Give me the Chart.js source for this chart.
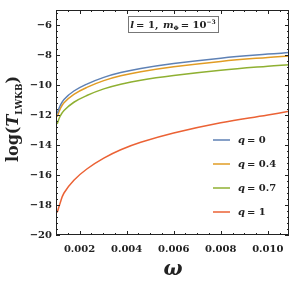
<!DOCTYPE html>
<html>
<head>
<meta charset="utf-8">
<script src="https://cdn.jsdelivr.net/npm/chart.js@4.4.1/dist/chart.umd.min.js"></script>
<style>
  html, body { margin: 0; padding: 0; background: #fff; }
  #wrap { width: 292px; height: 289px; }
</style>
</head>
<body>
<div id="wrap"><canvas id="grafico" width="292" height="289"></canvas></div>
<script>
// valores
const omega = [0.00105, 0.00117, 0.00134, 0.00176, 0.00231, 0.00303, 0.00375, 0.0046, 0.006, 0.008, 0.010, 0.0109];
const q0  = [-11.9, -11.4, -10.96, -10.4, -9.94, -9.49, -9.17, -8.9, -8.57, -8.21, -7.94, -7.84];
const q04 = [-12.12, -11.62, -11.18, -10.62, -10.16, -9.71, -9.39, -9.12, -8.79, -8.43, -8.16, -8.06];
const q07 = [-12.6, -12.1, -11.7, -11.15, -10.7, -10.26, -9.95, -9.68, -9.37, -9.02, -8.75, -8.65];
const q1  = [-18.5, -17.9, -17.2, -16.35, -15.6, -14.88, -14.32, -13.82, -13.2, -12.52, -12.0, -11.75];

const rotulos = ['0', '0.4', '0.7', '1'];
const cores = ['#5E81B5', '#E19C24', '#8FB032', '#EB6235'];
const xTicks = [0.002, 0.004, 0.006, 0.008, 0.010];
const yTicks = [-20, -18, -16, -14, -12, -10, -8, -6];

const serif = '"DejaVu Serif", "Liberation Serif", serif';

function pontos(ys) {
  return omega.map((w, i) => ({ x: w, y: ys[i] }));
}

// desenha pedaços de texto com fontes diferentes em sequência
function runs(ctx, partes, x, y) {
  let cx = x;
  partes.forEach(p => {
    ctx.font = p.f;
    ctx.fillText(p.t, cx, y + (p.dy || 0));
    cx += ctx.measureText(p.t).width + (p.sp || 0);
  });
  return cx - x;
}
function largura(ctx, partes) {
  let w = 0;
  partes.forEach(p => { ctx.font = p.f; w += ctx.measureText(p.t).width + (p.sp || 0); });
  return w;
}

const enfeites = {
  id: 'enfeites',
  afterDraw(chart) {
    const { ctx, chartArea: a, scales: { x, y } } = chart;
    ctx.save();
    ctx.strokeStyle = '#222';
    ctx.lineWidth = 1;
    ctx.strokeRect(a.left + 0.5, a.top + 0.5, a.right - a.left - 1, a.bottom - a.top - 1);

    // marcas dos eixos, para dentro, nos quatro lados
    ctx.beginPath();
    for (let v = 0.001; v <= 0.0109 + 1e-9; v += 0.0005) {
      const px = Math.round(x.getPixelForValue(v)) + 0.5;
      const maj = xTicks.some(t => Math.abs(t - v) < 1e-7);
      const L = maj ? 4 : 2;
      ctx.moveTo(px, a.bottom); ctx.lineTo(px, a.bottom - L);
      ctx.moveTo(px, a.top); ctx.lineTo(px, a.top + L);
    }
    for (let k = 0; k <= 37; k++) {
      const v = -20 + k * 0.4;
      if (v > -5) break;
      const py = Math.round(y.getPixelForValue(v)) + 0.5;
      const maj = k % 5 === 0;
      const L = maj ? 4 : 2;
      ctx.moveTo(a.left, py); ctx.lineTo(a.left + L, py);
      ctx.moveTo(a.right, py); ctx.lineTo(a.right - L, py);
    }
    ctx.stroke();

    // caixa do rótulo
    ctx.fillStyle = '#fff';
    ctx.fillRect(128, 16, 90, 16);
    ctx.strokeStyle = '#777';
    ctx.strokeRect(128.5, 16.5, 90, 16);
    ctx.fillStyle = '#222';
    ctx.textBaseline = 'alphabetic';
    const rot = [
      { t: 'l', f: 'italic bold 10px ' + serif, sp: 2 },
      { t: '= 1, ', f: 'bold 10px ' + serif, sp: 1 },
      { t: 'm', f: 'italic bold 10px ' + serif },
      { t: 'Φ', f: 'bold 6px ' + serif, dy: 2, sp: 2 },
      { t: '= 10', f: 'bold 10px ' + serif },
      { t: '−3', f: 'bold 6px ' + serif, dy: -4 }
    ];
    runs(ctx, rot, 173 - largura(ctx, rot) / 2, 28);

    // legenda
    chart.data.datasets.forEach((ds, i) => {
      const ly = 140 + i * 24;
      ctx.strokeStyle = ds.borderColor;
      ctx.lineWidth = 1.5;
      ctx.beginPath();
      ctx.moveTo(213, ly); ctx.lineTo(230, ly);
      ctx.stroke();
      ctx.fillStyle = '#222';
      ctx.textBaseline = 'middle';
      runs(ctx, [
        { t: 'q', f: 'italic bold 10px ' + serif, sp: 2 },
        { t: '= ' + rotulos[i], f: 'bold 10px ' + serif }
      ], 238, ly);
    });

    // título do eixo y
    ctx.save();
    ctx.translate(18, 119);
    ctx.rotate(-Math.PI / 2);
    ctx.textBaseline = 'alphabetic';
    const tit = [
      { t: 'log(', f: 'bold 16px ' + serif },
      { t: 'T', f: 'italic bold 16px ' + serif, sp: 0 },
      { t: 'LWKB', f: 'bold 9px ' + serif, dy: 4 },
      { t: ')', f: 'bold 16px ' + serif }
    ];
    runs(ctx, tit, -largura(ctx, tit) / 2, 0);
    ctx.restore();

    // título do eixo x
    ctx.font = 'italic bold 20px ' + serif;
    ctx.textAlign = 'center';
    ctx.textBaseline = 'middle';
    ctx.fillText('ω', 173, 270);
    ctx.restore();
  }
};

const ctx = document.getElementById('grafico').getContext('2d');
const grafico = new Chart(ctx, {
  type: 'line',
  data: {
    datasets: rotulos.map((r, i) => ({
      label: 'q = ' + r,
      data: pontos([q0, q04, q07, q1][i]),
      borderColor: cores[i],
      borderWidth: 1.5,
      pointRadius: 0,
      fill: false,
      tension: 0.4
    }))
  },
  options: {
    responsive: false,
    animation: false,
    layout: { padding: { top: 1, right: 3, left: 0, bottom: 0 } },
    scales: {
      x: {
        type: 'linear',
        min: 0.001,
        max: 0.0109,
        afterBuildTicks: s => { s.ticks = xTicks.map(v => ({ value: v })); },
        afterFit: s => { s.height = 54; },
        grid: { display: false, drawTicks: false },
        border: { display: false },
        ticks: {
          padding: 8,
          color: '#222',
          font: { family: serif, size: 10, weight: 'bold' },
          callback: v => v.toFixed(3),
          maxRotation: 0
        }
      },
      y: {
        min: -20,
        max: -5,
        afterBuildTicks: s => { s.ticks = yTicks.map(v => ({ value: v })); },
        afterFit: s => { s.width = 56; },
        grid: { display: false, drawTicks: false },
        border: { display: false },
        ticks: {
          padding: 4,
          color: '#222',
          font: { family: serif, size: 10, weight: 'bold' },
          callback: v => String(v).replace('-', '−')
        }
      }
    },
    plugins: {
      legend: { display: false },
      tooltip: { enabled: false }
    }
  },
  plugins: [enfeites]
});
</script>
</body>
</html>
